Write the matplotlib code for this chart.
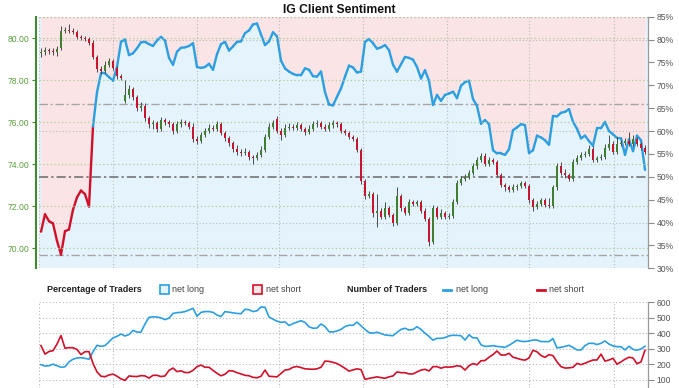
import numpy as np
import matplotlib
matplotlib.use('Agg')
import matplotlib.pyplot as plt
from matplotlib import font_manager
from matplotlib.collections import LineCollection
from matplotlib.patches import Rectangle
from matplotlib.lines import Line2D

# price candles (one per bar)
opens = [79.30, 79.35, 79.45, 79.40, 79.35, 79.55, 80.35, 80.40, 80.35, 80.30,
         80.05, 80.00, 79.95, 79.80, 79.10, 78.55, 78.45, 78.75, 78.90, 78.60,
         78.20, 77.00, 77.30, 77.60, 77.20, 76.70, 76.80, 76.20, 75.90, 75.95,
         75.70, 76.10, 76.00, 75.90, 75.60, 75.90, 76.00, 75.95, 75.80, 75.20,
         75.10, 75.40, 75.60, 75.75, 75.70, 75.90, 75.50, 75.25, 75.00, 74.75,
         74.60, 74.55, 74.60, 74.35, 74.30, 74.45, 74.70, 75.30, 75.80, 76.15,
         75.60, 75.40, 75.75, 75.80, 75.75, 75.85, 75.70, 75.55, 75.70, 75.90,
         75.95, 75.80, 75.70, 75.85, 75.95, 75.90, 75.60, 75.50, 75.30, 75.20,
         74.70, 73.20, 72.50, 72.60, 71.70, 71.80, 71.50, 71.90, 71.60, 71.20,
         72.50, 71.90, 71.70, 72.20, 72.10, 72.20, 71.80, 71.40, 70.30, 71.90,
         71.50, 71.70, 71.50, 71.55, 72.20, 73.10, 73.30, 73.40, 73.60, 73.90,
         74.20, 74.40, 74.00, 74.20, 74.10, 73.50, 73.00, 72.90, 72.80, 72.90,
         72.95, 73.10, 72.95, 72.30, 71.95, 72.10, 72.30, 72.05, 72.00, 72.90,
         73.90, 73.60, 73.50, 73.30, 74.10, 74.30, 74.45, 74.50, 74.75, 74.20,
         74.30, 74.35, 74.80, 74.95, 74.60, 74.95, 75.00, 75.10, 74.95, 75.20,
         74.95, 74.80]
highs = [79.55, 79.60, 79.55, 79.55, 79.65, 80.60, 80.55, 80.70, 80.50, 80.40,
         80.15, 80.10, 80.05, 79.90, 79.20, 78.70, 78.90, 79.05, 79.00, 78.70,
         78.30, 78.00, 77.80, 77.70, 77.30, 76.95, 76.90, 76.30, 76.10, 76.05,
         76.25, 76.20, 76.10, 76.00, 76.05, 76.15, 76.10, 76.05, 75.95, 75.35,
         75.55, 75.75, 75.90, 75.85, 76.05, 76.00, 75.60, 75.35, 75.10, 74.90,
         74.75, 74.80, 74.70, 74.45, 74.60, 74.85, 75.45, 75.95, 76.10, 76.30,
         75.75, 75.90, 75.95, 75.90, 76.00, 75.95, 75.80, 75.85, 76.05, 76.10,
         76.05, 75.90, 76.00, 76.10, 76.05, 76.00, 75.70, 75.60, 75.40, 75.30,
         74.80, 73.30, 72.75, 72.70, 72.60, 71.90, 72.20, 72.00, 71.70, 72.90,
         72.60, 72.00, 72.35, 72.30, 72.30, 72.30, 71.90, 71.50, 72.05, 72.00,
         71.85, 71.80, 71.70, 72.35, 73.25, 73.45, 73.55, 73.75, 74.05, 74.35,
         74.55, 74.55, 74.35, 74.30, 74.20, 73.60, 73.10, 73.00, 73.05, 73.05,
         73.20, 73.20, 73.05, 72.40, 72.25, 72.40, 72.40, 72.40, 73.00, 74.05,
         74.10, 73.80, 73.60, 74.25, 74.45, 74.60, 74.65, 74.90, 74.85, 74.40,
         74.50, 74.95, 75.40, 75.10, 75.30, 75.15, 75.25, 75.55, 75.40, 75.30,
         75.05, 74.90]
lows = [79.10, 79.20, 79.25, 79.20, 79.15, 79.45, 80.25, 80.25, 80.20, 79.95,
        79.90, 79.85, 79.70, 79.00, 78.40, 78.30, 78.35, 78.65, 78.50, 78.05,
        78.00, 76.90, 77.15, 77.05, 76.55, 76.55, 76.05, 75.75, 75.70, 75.55,
        75.60, 75.85, 75.80, 75.45, 75.50, 75.80, 75.85, 75.70, 75.05, 74.95,
        75.00, 75.30, 75.50, 75.60, 75.60, 75.40, 75.10, 74.85, 74.60, 74.45,
        74.40, 74.45, 74.20, 74.00, 74.20, 74.35, 74.60, 75.20, 75.70, 75.50,
        75.15, 75.30, 75.65, 75.65, 75.65, 75.60, 75.40, 75.45, 75.60, 75.80,
        75.70, 75.60, 75.60, 75.75, 75.80, 75.50, 75.40, 75.20, 75.10, 74.60,
        73.05, 72.35, 72.40, 71.50, 71.00, 71.40, 71.40, 71.50, 71.05, 71.10,
        71.80, 71.60, 71.60, 72.00, 72.00, 71.70, 71.30, 70.10, 70.20, 71.40,
        71.40, 71.40, 71.40, 71.45, 72.10, 73.00, 73.20, 73.30, 73.50, 73.80,
        74.10, 73.90, 73.90, 74.00, 73.40, 72.90, 72.75, 72.70, 72.70, 72.80,
        72.85, 72.85, 72.15, 71.80, 71.85, 72.00, 71.95, 71.90, 71.90, 72.80,
        73.50, 73.35, 73.20, 73.20, 74.00, 74.20, 74.35, 74.40, 74.10, 74.10,
        74.20, 74.25, 74.70, 74.50, 74.50, 74.85, 74.90, 74.85, 74.85, 74.85,
        74.70, 74.50]
closes = [79.35, 79.45, 79.40, 79.35, 79.50, 80.35, 80.40, 80.35, 80.30, 80.05,
          80.00, 79.95, 79.80, 79.10, 78.55, 78.45, 78.75, 78.90, 78.60, 78.20,
          78.10, 77.30, 77.60, 77.20, 76.70, 76.80, 76.20, 75.90, 75.95, 75.70,
          76.10, 76.00, 75.90, 75.60, 75.90, 76.00, 75.95, 75.80, 75.20, 75.10,
          75.40, 75.60, 75.75, 75.70, 75.90, 75.50, 75.25, 75.00, 74.75, 74.60,
          74.55, 74.60, 74.35, 74.30, 74.45, 74.70, 75.30, 75.80, 75.95, 75.60,
          75.40, 75.75, 75.80, 75.75, 75.85, 75.70, 75.55, 75.70, 75.90, 75.95,
          75.80, 75.70, 75.85, 75.95, 75.90, 75.60, 75.50, 75.30, 75.20, 74.70,
          73.20, 72.50, 72.60, 71.70, 71.80, 71.50, 71.90, 71.60, 71.20, 72.50,
          71.90, 71.70, 72.20, 72.10, 72.20, 71.80, 71.40, 70.30, 71.90, 71.50,
          71.70, 71.50, 71.55, 72.20, 73.10, 73.30, 73.40, 73.60, 73.90, 74.20,
          74.40, 74.00, 74.20, 74.10, 73.50, 73.00, 72.90, 72.80, 72.90, 72.95,
          73.10, 72.95, 72.30, 71.95, 72.10, 72.30, 72.05, 72.00, 72.90, 73.90,
          73.60, 73.50, 73.30, 74.10, 74.30, 74.45, 74.50, 74.75, 74.20, 74.30,
          74.35, 74.80, 74.95, 74.60, 74.95, 75.00, 75.10, 74.95, 75.20, 74.95,
          74.80, 74.60]

# % of traders net long
pct_long = [38.0, 41.8, 40.3, 39.8, 36.0, 33.0, 38.1, 38.5, 42.8, 45.5,
            47.0, 46.2, 43.5, 61.0, 68.5, 72.6, 72.6, 71.8, 71.0, 74.0,
            79.5, 80.0, 76.6, 77.0, 78.1, 79.4, 79.5, 79.0, 78.6, 79.8,
            80.6, 79.8, 76.0, 74.5, 77.35, 78.2, 78.3, 78.6, 79.2, 74.0,
            73.8, 74.0, 74.7, 73.4, 76.8, 79.0, 79.5, 77.6, 78.5, 79.5,
            79.6, 81.4, 82.0, 83.3, 83.5, 81.1, 78.8, 79.6, 81.6, 80.7,
            75.4, 73.7, 73.0, 72.5, 72.2, 72.2, 73.7, 73.4, 72.0, 71.9,
            73.0, 68.5, 65.8, 65.6, 67.5, 69.3, 71.9, 74.3, 73.9, 72.8,
            73.0, 79.5, 80.1, 79.2, 78.0, 78.3, 78.8, 77.7, 74.5, 73.0,
            74.6, 76.2, 76.0, 75.6, 74.0, 71.5, 73.3, 71.0, 65.7, 67.9,
            66.6, 67.9, 68.2, 68.6, 67.2, 69.9, 70.7, 71.0, 67.0, 65.5,
            61.6, 62.4, 61.5, 55.8, 55.1, 55.1, 54.8, 56.0, 60.2, 60.8,
            61.5, 61.3, 55.2, 55.8, 59.0, 58.6, 58.0, 57.0, 63.3, 63.2,
            64.0, 64.2, 64.8, 62.0, 60.5, 58.4, 59.0, 57.8, 56.8, 60.6,
            60.6, 62.0, 60.0, 59.3, 58.5, 58.4, 54.8, 58.2, 55.6, 59.0,
            58.0, 51.5]

# number of traders
n_long = [197, 188, 190, 200, 190, 180, 183, 215, 232, 240,
          242, 238, 232, 280, 322, 315, 320, 345, 370, 380,
          395, 382, 392, 418, 408, 407, 460, 503, 506, 505,
          499, 488, 498, 528, 533, 535, 540, 550, 561, 510,
          535, 540, 540, 535, 518, 508, 540, 536, 532, 528,
          526, 555, 552, 540, 545, 570, 568, 505, 491, 478,
          470, 474, 450, 462, 472, 481, 470, 442, 432, 434,
          460, 443, 410, 408, 415, 425, 443, 452, 451, 472,
          448, 425, 404, 400, 407, 398, 389, 386, 384, 405,
          425, 432, 421, 424, 442, 425, 400, 380, 355, 367,
          367, 372, 383, 387, 386, 384, 356, 390, 370, 370,
          325, 315, 316, 320, 315, 312, 309, 322, 338, 355,
          348, 346, 350, 356, 356, 346, 346, 346, 366, 305,
          309, 315, 322, 308, 292, 292, 320, 335, 335, 327,
          335, 350, 330, 318, 313, 313, 292, 316, 296, 290,
          298, 316]
n_short = [320, 265, 282, 287, 330, 385, 303, 307, 306, 295,
           262, 281, 281, 205, 150, 122, 119, 130, 136, 122,
           105, 95, 124, 121, 120, 126, 124, 110, 128, 128,
           120, 124, 160, 175, 152, 157, 146, 146, 160, 184,
           194, 180, 180, 160, 141, 125, 135, 158, 156, 145,
           137, 128, 125, 115, 112, 122, 162, 122, 120, 118,
           140, 162, 166, 180, 185, 178, 170, 168, 167, 170,
           180, 220, 218, 212, 204, 190, 173, 155, 163, 170,
           165, 102, 108, 113, 118, 113, 109, 118, 124, 150,
           145, 145, 137, 137, 150, 162, 167, 156, 184, 184,
           174, 182, 181, 183, 190, 186, 162, 190, 204, 196,
           222, 224, 245, 262, 285, 259, 259, 270, 245, 238,
           230, 226, 240, 290, 280, 256, 244, 262, 255, 215,
           184, 175, 176, 180, 205, 197, 206, 217, 227, 227,
           265, 220, 227, 238, 200, 215, 232, 245, 240, 203,
           215, 290]

BLUE = '#2b9fe0'
RED = '#d0102a'
C_UP = '#3f7f2f'
C_DN = '#c8142c'
PINK = '#fbe4e5'
LIGHTBLUE = '#e5f3fc'
GRID = '#b8b8b8'
GGRID = '#a9cf93'
TXT = '#555555'

W, H = 679, 388
fig = plt.figure(figsize=(W / 100, H / 100), dpi=100)

def fx(px):
    return px / W

def fy(py):
    return 1 - py / H

installed = {f.name for f in font_manager.fontManager.ttflist}
if 'Liberation Sans Narrow' in installed:
    tick_font, tick_size, leg_size = 'Liberation Sans Narrow', 7.2, 7.5
else:
    tick_font, tick_size, leg_size = 'Liberation Sans', 6.2, 6.5

x = np.arange(len(closes))
xlim = (-0.5, 151.75)
vgrid = [-0.5, 17.9, 39.1, 59.4, 80.6, 101.6, 122.1, 143.25]

# ---------------- top panel ----------------
ax_pct = fig.add_axes([fx(39), fy(268.3), fx(648) - fx(39), (268.3 - 16.7) / H])
ax_price = ax_pct.twinx()

ax_pct.set_facecolor(LIGHTBLUE)
ax_pct.set_xlim(*xlim)
ax_pct.set_ylim(30, 85)
ax_pct.fill_between(x, pct_long, 85, color=PINK, lw=0, zorder=1)

for v in vgrid:
    ax_pct.axvline(v, color=GRID, lw=0.8, ls=(0, (1, 2)), zorder=2)
for v in [40, 60, 80]:
    ax_pct.axhline(v, color=GRID, lw=0.8, ls=(0, (1, 2)), zorder=2)
ax_pct.axhline(85, color='#b4b08c', lw=0.9, ls=(0, (1, 2)), zorder=2)
ax_pct.axhline(30, color=GGRID, lw=0.9, ls=(0, (1, 2)), zorder=2)
ax_pct.axhline(50, color='#6a6a6a', lw=1.1, ls=(0, (6, 2, 1.5, 2)), zorder=2)
for v in [66, 33]:
    ax_pct.axhline(v, color='#a5a5a5', lw=1.0, ls=(0, (6, 2, 1.5, 2)), zorder=2)

pts = np.column_stack([x, pct_long])
segs = np.stack([pts[:-1], pts[1:]], axis=1)
cols = [RED if v < 50 else BLUE for v in pct_long[:-1]]
ax_pct.add_collection(LineCollection(segs, colors=cols, linewidths=1.7,
                                     capstyle='round', joinstyle='round', zorder=5))

ax_pct.yaxis.tick_right()
ax_pct.yaxis.set_label_position('right')
ax_pct.set_yticks(range(30, 86, 5))
ax_pct.set_yticklabels([f'{v}%' for v in range(30, 86, 5)])
ax_pct.tick_params(axis='y', colors='#888888', labelcolor=TXT, length=4, width=0.8, pad=2,
                   labelsize=tick_size)
ax_pct.set_xticks([])
for s in ['top', 'bottom', 'left']:
    ax_pct.spines[s].set_visible(False)
ax_pct.spines['right'].set_color('#999999')
ax_pct.spines['right'].set_linewidth(0.9)

ax_price.set_ylim(69.05, 81.03)
ax_price.set_xlim(*xlim)
for v in [70, 72, 74, 76, 78, 80]:
    ax_price.axhline(v, color=GGRID, lw=0.9, ls=(0, (1, 2)), zorder=1)

o = np.array(opens)
c = np.array(closes)
up = c >= o
ax_price.vlines(x, lows, highs, color='#4a4a4a', lw=0.7, zorder=3)
ax_price.bar(x, np.maximum(np.abs(c - o), 0.05), bottom=np.minimum(o, c), width=0.62,
             color=np.where(up, C_UP, C_DN), lw=0, zorder=4)

ax_price.yaxis.tick_left()
ax_price.yaxis.set_label_position('left')
ax_price.set_yticks([70, 72, 74, 76, 78, 80])
ax_price.set_yticklabels([f'{v:.2f}' for v in [70, 72, 74, 76, 78, 80]])
ax_price.tick_params(axis='y', colors='#3d8b2f', labelcolor='#5c9e3c', length=3, width=0.8,
                     pad=2, labelsize=tick_size)
for s in ['top', 'bottom', 'right']:
    ax_price.spines[s].set_visible(False)
ax_price.spines['left'].set_visible(True)
ax_price.spines['left'].set_color('#3d8b2f')
ax_price.spines['left'].set_linewidth(1.5)
ax_price.spines['left'].set_position(('outward', 2))
for t in ax_price.get_yticklabels() + ax_pct.get_yticklabels():
    t.set_fontfamily(tick_font)

fig.text(fx(339.5), fy(10), 'IG Client Sentiment', ha='center', va='center',
         fontsize=8.7, fontweight='bold', family='Liberation Sans', color='#111111')

# ---------------- bottom panel ----------------
ax_n = fig.add_axes([fx(39), 0, fx(648) - fx(39), (388 - 302.3) / H])
ax_n.set_xlim(*xlim)
ax_n.set_ylim(46, 600)
for v in vgrid:
    ax_n.axvline(v, color=GRID, lw=0.8, ls=(0, (1, 2)), zorder=1)
for v in range(100, 601, 100):
    ax_n.axhline(v, color=GRID, lw=0.8, ls=(0, (1, 2)), zorder=1)
ax_n.plot(x, n_long, color=BLUE, lw=1.2, zorder=3)
ax_n.plot(x, n_short, color=RED, lw=1.2, zorder=3)
ax_n.yaxis.tick_right()
ax_n.set_yticks(range(100, 601, 100))
ax_n.tick_params(axis='y', colors='#888888', labelcolor=TXT, length=4, width=0.8, pad=2,
                 labelsize=tick_size)
for t in ax_n.get_yticklabels():
    t.set_fontfamily(tick_font)
ax_n.set_xticks([])
for s in ['top', 'bottom', 'left']:
    ax_n.spines[s].set_visible(False)
ax_n.spines['right'].set_color('#999999')
ax_n.spines['right'].set_linewidth(0.9)

# legend row
ly = 289.5
lkw = dict(va='center', fontsize=leg_size, family=tick_font)
fig.text(fx(47), fy(ly), 'Percentage of Traders', fontweight='bold', color='#222222', **lkw)
fig.patches.append(Rectangle((fx(160), fy(294)), fx(9), 9 / H, transform=fig.transFigure,
                             facecolor=LIGHTBLUE, edgecolor=BLUE, lw=1.2))
fig.text(fx(172), fy(ly), 'net long', color='#444444', **lkw)
fig.patches.append(Rectangle((fx(253), fy(294)), fx(9), 9 / H, transform=fig.transFigure,
                             facecolor=PINK, edgecolor=RED, lw=1.2))
fig.text(fx(266), fy(ly), 'net short', color='#444444', **lkw)
fig.text(fx(347), fy(ly), 'Number of Traders', fontweight='bold', color='#222222', **lkw)
fig.lines.append(Line2D([fx(443), fx(451)], [fy(ly), fy(ly)], transform=fig.transFigure,
                        color=BLUE, lw=2))
fig.text(fx(456), fy(ly), 'net long', color='#444444', **lkw)
fig.lines.append(Line2D([fx(537), fx(545)], [fy(ly), fy(ly)], transform=fig.transFigure,
                        color=RED, lw=2))
fig.text(fx(549), fy(ly), 'net short', color='#444444', **lkw)

fig.savefig('out.png', dpi=100)
